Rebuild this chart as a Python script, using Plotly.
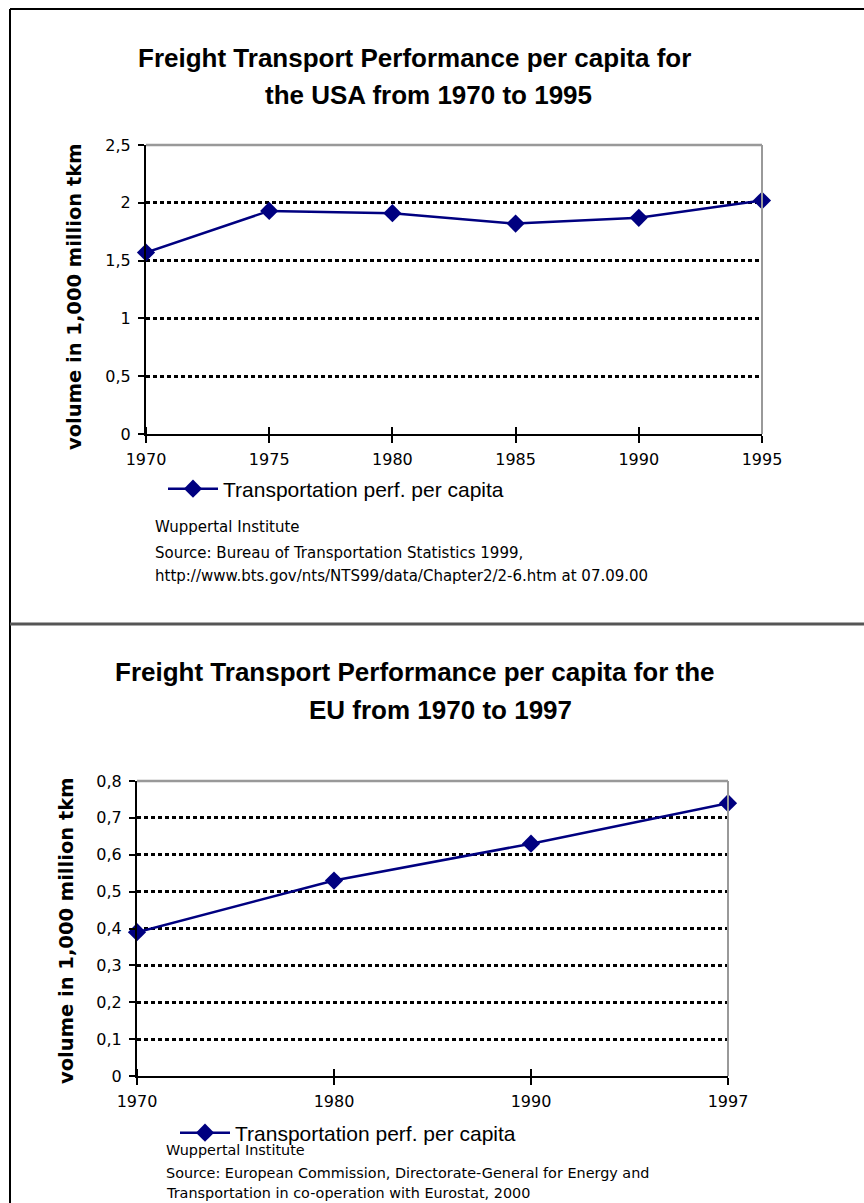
import plotly.graph_objects as go

# ---- data ----
usa_years = [1970, 1975, 1980, 1985, 1990, 1995]
usa_values = [1.57, 1.93, 1.91, 1.82, 1.87, 2.02]

eu_years = ["1970", "1980", "1990", "1997"]
eu_values = [0.39, 0.53, 0.63, 0.74]

series_name = "Transportation perf. per capita"
y_title = "volume in 1,000 million tkm"
usa_title = ["Freight Transport Performance per capita for", "the USA from 1970 to 1995"]
eu_title = ["Freight Transport Performance per capita for the", "EU from 1970 to 1997"]
usa_source = [
    "Wuppertal Institute",
    "Source: Bureau of Transportation Statistics 1999,",
    "http://www.bts.gov/nts/NTS99/data/Chapter2/2-6.htm at 07.09.00",
]
eu_source = [
    "Wuppertal Institute",
    "Source: European Commission, Directorate-General for Energy and",
    "Transportation in co-operation with Eurostat, 2000",
]

# ---- page geometry (pixels) ----
W, H = 864, 1203


def px(x):
    return x / W


def py(y):
    return 1 - y / H


NAVY = "#000080"
TICK_FONT = dict(family="DejaVu Sans", size=16, color="black")
TITLE_FONT = dict(family="Liberation Sans Narrow, Liberation Sans", size=26,
                  color="black", weight="bold")
NOTE_FONT = dict(family="DejaVu Sans", size=15, color="black")
NOTE_FONT_EU = dict(NOTE_FONT, size=14.4)
LEGEND_FONT = dict(family="Liberation Sans", size=21, color="black")
YTITLE_FONT = dict(family="DejaVu Sans", size=19.5, color="black", weight="bold")

fig = go.Figure()

line_style = dict(color=NAVY, width=2.5)
marker_style = dict(symbol="diamond", size=14, color=NAVY)

fig.add_trace(go.Scatter(
    x=usa_years, y=usa_values, mode="lines+markers", name=series_name,
    line=line_style, marker=marker_style, cliponaxis=False,
    xaxis="x", yaxis="y", legend="legend",
))
fig.add_trace(go.Scatter(
    x=eu_years, y=eu_values, mode="lines+markers", name=series_name,
    line=line_style, marker=marker_style, cliponaxis=False,
    xaxis="x2", yaxis="y2", legend="legend2",
))

axis_common = dict(
    showline=True, linecolor="black", linewidth=2,
    ticks="outside", ticklen=7, tickwidth=1.5, tickcolor="black",
    tickfont=TICK_FONT, zeroline=False, fixedrange=True,
)
x_common = dict(axis_common, showgrid=False, ticklabelstandoff=3)
y_common = dict(axis_common, ticklen=6, showgrid=True, gridcolor="black",
                gridwidth=2.5, griddash="4px,3px", ticklabelstandoff=4)

legend_common = dict(xanchor="left", yanchor="middle", font=LEGEND_FONT,
                     bgcolor="rgba(0,0,0,0)", itemwidth=50)

fig.update_layout(
    width=W, height=H,
    margin=dict(l=0, r=0, t=0, b=0, pad=0, autoexpand=False),
    paper_bgcolor="white", plot_bgcolor="white",
    separators=",.",
    showlegend=True,
    xaxis=dict(domain=[px(146), px(762)], anchor="y", range=[1970, 1995],
               tickmode="linear", tick0=1970, dtick=5,
               minor=dict(ticks="inside", tick0=1970, dtick=5, ticklen=7,
                          tickwidth=1.5, tickcolor="black", showgrid=False),
               **x_common),
    yaxis=dict(domain=[py(434), py(145)], anchor="x", range=[0, 2.5],
               tickmode="linear", tick0=0, dtick=0.5, **y_common),
    xaxis2=dict(domain=[px(137), px(728)], anchor="y2", type="category",
                range=[0, 3],
                minor=dict(ticks="inside", tick0=0, dtick=1, ticklen=7,
                           tickwidth=1.5, tickcolor="black", showgrid=False),
                **x_common),
    yaxis2=dict(domain=[py(1076), py(781)], anchor="x2", range=[0, 0.8],
                tickmode="linear", tick0=0, dtick=0.1, **y_common),
    legend=dict(x=px(163), y=py(489), **legend_common),
    legend2=dict(x=px(175), y=py(1133), **legend_common),
)

# plot-area frames (grey top and right edges)
for xr, yr in (("x domain", "y domain"), ("x2 domain", "y2 domain")):
    fig.add_shape(type="line", xref=xr, yref=yr, x0=0, x1=1, y0=1, y1=1,
                  line=dict(color="#999999", width=2.5), layer="above")
    fig.add_shape(type="line", xref=xr, yref=yr, x0=1, x1=1, y0=0, y1=1,
                  line=dict(color="#999999", width=2), layer="above")

# page frame and divider between the two panels
fig.add_shape(type="line", xref="paper", yref="paper", x0=px(10), x1=px(10),
              y0=py(9), y1=0, line=dict(color="black", width=2))
fig.add_shape(type="line", xref="paper", yref="paper", x0=px(10), x1=1,
              y0=py(9), y1=py(9), line=dict(color="black", width=2))
fig.add_shape(type="line", xref="paper", yref="paper", x0=px(10), x1=1,
              y0=py(624), y1=py(624), line=dict(color="#555555", width=3))

annotations = []


def text(s, x, y, font, xanchor="center", angle=0):
    annotations.append(dict(
        text=s, x=px(x), y=py(y), xref="paper", yref="paper",
        xanchor=xanchor, yanchor="middle", showarrow=False,
        font=font, textangle=angle,
    ))


text(usa_title[0], 414, 58, TITLE_FONT)
text(usa_title[1], 428, 95, TITLE_FONT)
text(eu_title[0], 415, 672, TITLE_FONT)
text(eu_title[1], 441, 710, TITLE_FONT)

text(y_title, 74, 297, YTITLE_FONT, angle=-90)
text(y_title, 67, 931, YTITLE_FONT, angle=-90)

for s, y in zip(usa_source, (527, 553, 576)):
    text(s, 153, y, NOTE_FONT, xanchor="left")
for s, y in zip(eu_source, (1150, 1173, 1193)):
    text(s, 164, y, NOTE_FONT_EU, xanchor="left")

fig.update_layout(annotations=annotations)

fig.write_html("out.html")
